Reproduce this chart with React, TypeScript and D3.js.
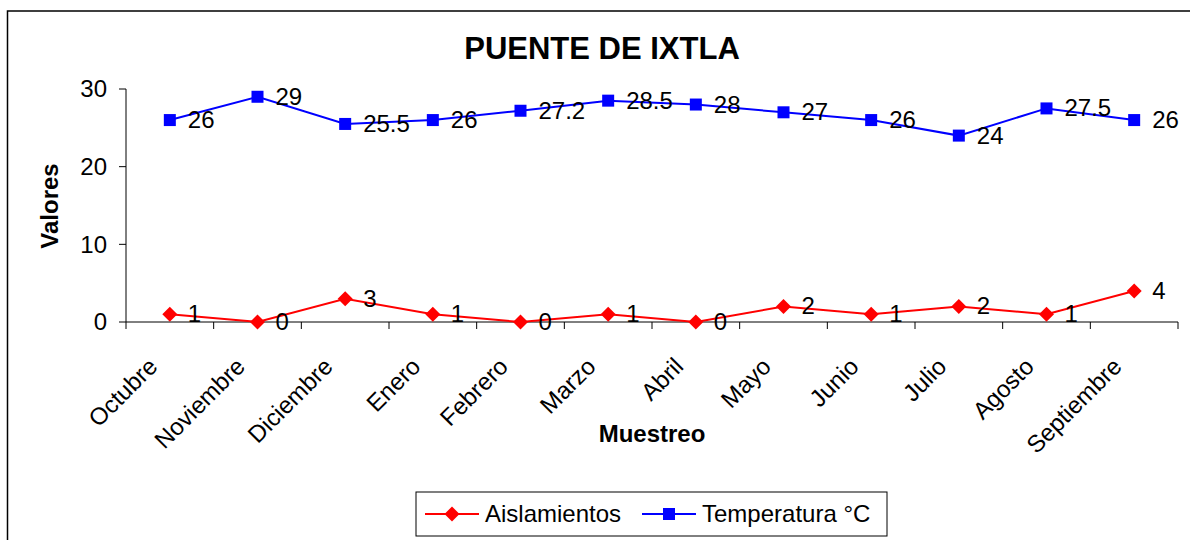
import React from "react";
import * as d3 from "d3";

const categories = ["Octubre", "Noviembre", "Diciembre", "Enero", "Febrero", "Marzo", "Abril", "Mayo", "Junio", "Julio", "Agosto", "Septiembre"];
const aislamientos = [1, 0, 3, 1, 0, 1, 0, 2, 1, 2, 1, 4];
const temperatura = [26, 29, 25.5, 26, 27.2, 28.5, 28, 27, 26, 24, 27.5, 26];
const yTicks = [0, 10, 20, 30];

const FONT = "'Liberation Sans', Arial, Helvetica, sans-serif";

export default function App() {
  const W = 1190, H = 540;
  const left = 126, right = 1178, top = 89, bottom = 322;
  const x = d3.scaleBand<string>().domain(categories).range([left, right]).padding(0);
  const y = d3.scaleLinear().domain([0, 30]).range([bottom, top]);
  const cx = (c: string) => (x(c) as number) + x.bandwidth() / 2;
  const line = d3.line<number>().x((_, i) => cx(categories[i])).y((v) => y(v));
  const diamond = (px: number, py: number, r: number) => `M${px},${py - r}L${px + r},${py}L${px},${py + r}L${px - r},${py}Z`;
  const bounds = [...categories.map((c) => x(c) as number), right];

  return (
    <svg width={W} height={H} style={{ position: "absolute", left: 0, top: 0, display: "block" }} fontFamily={FONT}>
      <rect x={0} y={0} width={W} height={H} fill="#fff" />
      <rect x={7.5} y={11} width={W + 20} height={H + 20} fill="none" stroke="#000" strokeWidth={1.5} />
      <text x={602} y={59} textAnchor="middle" fontSize={31} fontWeight="bold">PUENTE DE IXTLA</text>

      {/* y axis */}
      <line x1={left} x2={left} y1={top} y2={bottom} stroke="#000" strokeWidth={1} />
      {yTicks.map((t) => (
        <g key={t}>
          <line x1={left - 7} x2={left} y1={y(t)} y2={y(t)} stroke="#000" />
          <text x={107} y={y(t)} dy="0.35em" textAnchor="end" fontSize={24}>{t}</text>
        </g>
      ))}
      <text transform={`translate(58,206) rotate(-90)`} textAnchor="middle" fontSize={24} fontWeight="bold">Valores</text>

      {/* x axis */}
      <line x1={left} x2={right} y1={bottom} y2={bottom} stroke="#000" strokeWidth={1} />
      {bounds.map((b, i) => (
        <line key={i} x1={b} x2={b} y1={bottom} y2={bottom + 7} stroke="#000" />
      ))}
      {categories.map((c) => (
        <text key={c} transform={`translate(${cx(c) - 11},${368}) rotate(-45)`} textAnchor="end" fontSize={24}>{c}</text>
      ))}
      <text x={652} y={442} textAnchor="middle" fontSize={24} fontWeight="bold">Muestreo</text>

      {/* series */}
      <path d={line(temperatura) as string} fill="none" stroke="#0000ff" strokeWidth={2} />
      <path d={line(aislamientos) as string} fill="none" stroke="#ff0000" strokeWidth={2} />
      {temperatura.map((v, i) => (
        <g key={"t" + i}>
          <rect x={cx(categories[i]) - 6} y={y(v) - 6} width={12} height={12} fill="#0000ff" />
          <text x={cx(categories[i]) + 18} y={y(v) + 8} fontSize={24}>{v}</text>
        </g>
      ))}
      {aislamientos.map((v, i) => (
        <g key={"a" + i}>
          <path d={diamond(cx(categories[i]), y(v), 7.5)} fill="#ff0000" />
          <text x={cx(categories[i]) + 18} y={y(v) + 8} fontSize={24}>{v}</text>
        </g>
      ))}

      {/* legend */}
      <rect x={416} y={492} width={471} height={44} fill="#fff" stroke="#000" strokeWidth={1} />
      <line x1={425} x2={479} y1={514} y2={514} stroke="#ff0000" strokeWidth={2} />
      <path d={diamond(452, 514, 7.5)} fill="#ff0000" />
      <text x={485} y={514} dy="0.35em" fontSize={24}>Aislamientos</text>
      <line x1={642} x2={696} y1={514} y2={514} stroke="#0000ff" strokeWidth={2} />
      <rect x={663} y={508} width={12} height={12} fill="#0000ff" />
      <text x={702} y={514} dy="0.35em" fontSize={24}>Temperatura °C</text>
    </svg>
  );
}
